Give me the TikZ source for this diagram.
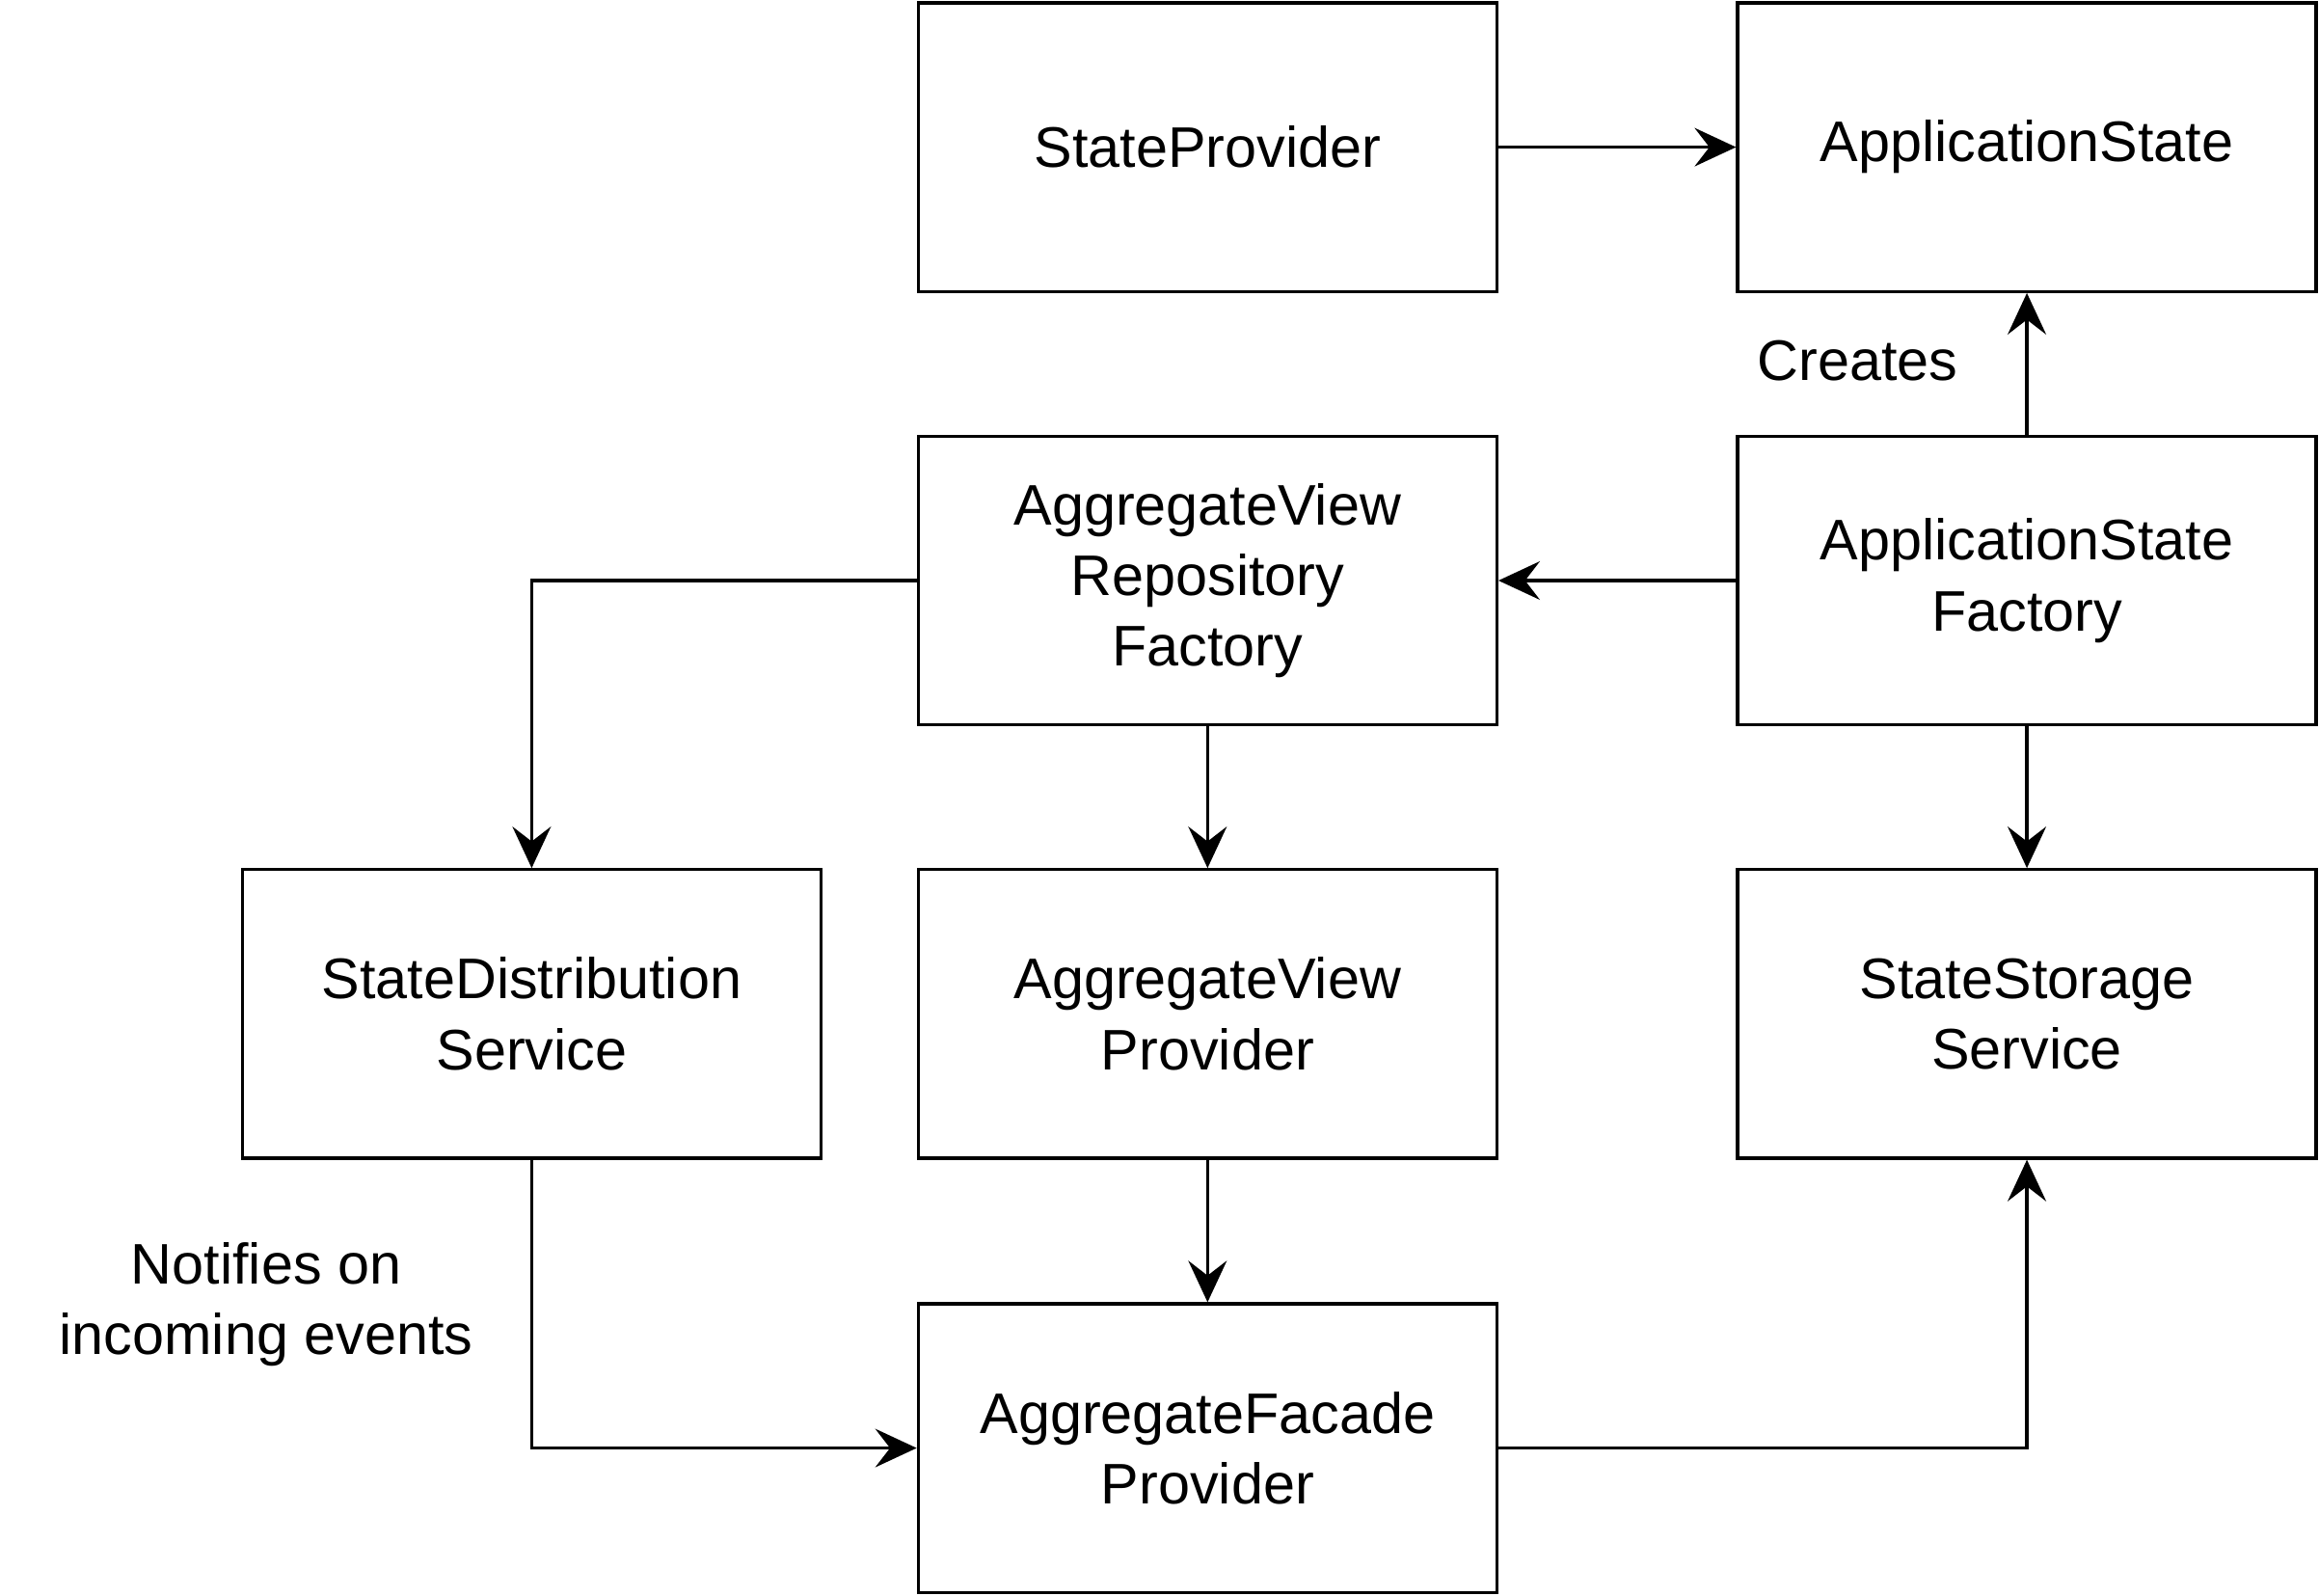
\documentclass[tikz,border=0pt]{standalone}
\usepackage{fontspec}
\setmainfont{Liberation Sans}
\usetikzlibrary{arrows.meta}
\tikzset{
  box/.style={draw, line width=0.6pt, minimum width=3.91cm, minimum height=1.95cm, align=center, inner sep=0pt, font=\fontsize{11}{13.6}\selectfont},
  conn/.style={-{Stealth[length=2.8mm, width=2.6mm, inset=1mm]}, line width=0.6pt},
  lbl/.style={align=center, font=\fontsize{11}{13.6}\selectfont}
}
\begin{document}
\begin{tikzpicture}[x=0.01cm, y=-0.01cm]
\useasboundingbox (0,0) rectangle (1568,1079);
\node[box] (sp) at (816.5,99.5) {StateProvider};
\node[box] (as) at (1370.5,99.5) {ApplicationState};
\node[box] (avrf) at (816.5,392.5) {AggregateView\\Repository\\Factory};
\node[box] (asf) at (1370.5,392.5) {ApplicationState\\Factory};
\node[box] (sds) at (359.5,685.5) {StateDistribution\\Service};
\node[box] (avp) at (816.5,685.5) {AggregateView\\Provider};
\node[box] (sss) at (1370.5,685.5) {StateStorage\\Service};
\node[box] (afp) at (816.5,979) {AggregateFacade\\Provider};
\node[lbl] (creates) at (1256,244) {Creates};
\node[lbl] (notifies) at (180,882) {Notifies on\\incoming events};
\draw[conn] (sp) -- (as);
\draw[conn] (asf) -- (as);
\draw[conn] (asf) -- (avrf);
\draw[conn] (avrf.west) -| (sds.north);
\draw[conn] (avrf) -- (avp);
\draw[conn] (asf) -- (sss);
\draw[conn] (sds.south) |- (afp.west);
\draw[conn] (avp) -- (afp);
\draw[conn] (afp.east) -| (sss.south);
\end{tikzpicture}
\end{document}
